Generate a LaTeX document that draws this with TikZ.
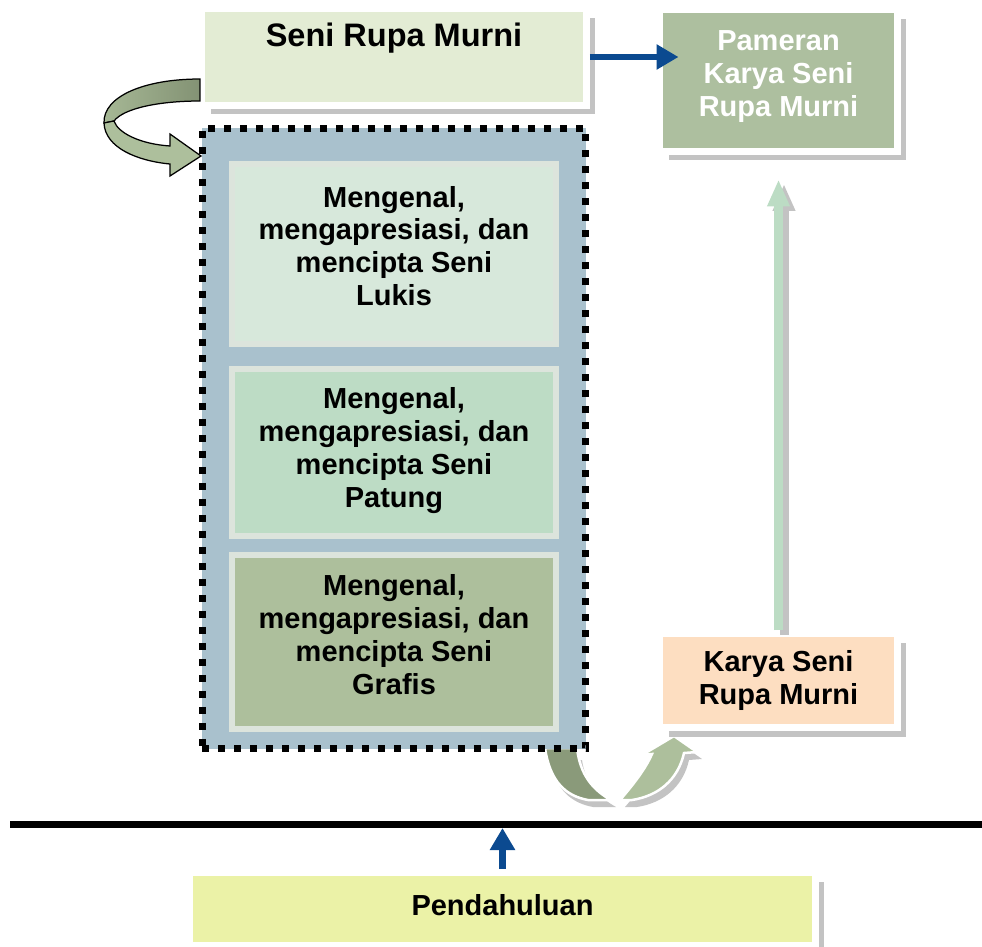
\documentclass[tikz,border=0pt]{standalone}
\usepackage{fontspec}
\setmainfont{Liberation Sans}
\usetikzlibrary{arrows.meta,shadows,calc}

\definecolor{srmisi}{HTML}{E3ECD4}
\definecolor{pameranisi}{HTML}{ADBF9F}
\definecolor{wadahisi}{HTML}{A9C1CD}
\definecolor{lukisisi}{HTML}{D7E8DB}
\definecolor{patungisi}{HTML}{BDDCC5}
\definecolor{grafisisi}{HTML}{ADBF9C}
\definecolor{tepi}{HTML}{DCE4DC}
\definecolor{karyaisi}{HTML}{FDDEC1}
\definecolor{pendahuluanisi}{HTML}{EBF2A7}
\definecolor{biru}{HTML}{0B4A90}
\definecolor{hijaumuda}{HTML}{BCDCC4}
\definecolor{hijautua}{HTML}{8A9A7A}
\definecolor{hijausedang}{HTML}{ADBF9C}
\definecolor{bayang}{HTML}{C3C3C3}

\newcommand{\tulisan}{\fontsize{16.5}{18.7}\selectfont\bfseries}
\newcommand{\judul}{\fontsize{18.5}{21}\selectfont\bfseries}

\tikzset{
    kotak/.style={draw=white, line width=0.14cm, inner sep=0pt, align=center, font=\tulisan,
        drop shadow={shadow xshift=0.18cm, shadow yshift=-0.18cm, fill=bayang, opacity=1}},
    isian/.style={draw=tepi, line width=0.12cm, inner sep=0pt, minimum width=6.48cm},
    teks/.style={font=\tulisan, align=center, inner sep=0pt},
    panahbiru/.style={draw=biru, line width=0.14cm, -{Triangle[length=0.44cm,width=0.48cm]}},
    panahhijau/.style={draw=#1, line width=0.18cm, -{Triangle[length=0.54cm,width=0.42cm]}},
}

\begin{document}
\begin{tikzpicture}[x=0.02cm,y=-0.02cm]
    \useasboundingbox (0,0) rectangle (982,946);
    %\draw[very thin,color=gray] (0,0) grid[step=50] (982,946);

    % lengkung bawah
    \begin{scope}[shift={(5,7)}]
        \fill[bayang] (545,753) .. controls (550,782) and (566,796) .. (588,800) -- (611,800) .. controls (593,790) and (580,775) .. (577,753) -- cycle;
        \fill[bayang] (620,800) .. controls (632,786) and (645,770) .. (652,754) -- (642,755) -- (674,736) -- (697,752) -- (684,753) .. controls (678,780) and (658,796) .. (632,800) -- cycle;
    \end{scope}
    \filldraw[draw=white, line width=0.05cm, fill=hijautua] (545,748) .. controls (550,782) and (566,796) .. (588,800) -- (611,800) .. controls (593,790) and (580,775) .. (577,748) -- cycle;
    \filldraw[draw=white, line width=0.05cm, fill=hijausedang] (620,800) .. controls (632,786) and (645,770) .. (652,754) -- (642,755) -- (674,736) -- (697,752) -- (684,753) .. controls (678,780) and (658,796) .. (632,800) -- cycle;

    \node[kotak, fill=srmisi, minimum width=7.7cm, minimum height=1.94cm,
        label={[font=\judul, inner sep=0pt, anchor=north, yshift=-0.35cm]north:Seni Rupa Murni}] (srm) at (394,57) {};
    \node[kotak, fill=pameranisi, minimum width=4.76cm, minimum height=2.84cm,
        label={[teks, text=white, yshift=0.08cm]center:Pameran\\Karya Seni\\Rupa Murni}] (pameran) at (778.5,80.5) {};
    \node[kotak, fill=karyaisi, minimum width=4.76cm, minimum height=1.88cm] (karya) at (778.5,680.5) {Karya Seni\\Rupa Murni};
    \node[kotak, fill=pendahuluanisi, minimum width=12.52cm, minimum height=1.46cm,
        label={[teks, yshift=0.08cm]center:Pendahuluan}] (pendahuluan) at (502.5,909) {};

    \node[draw=black, fill=wadahisi, line width=0.14cm, dash pattern=on 0.14cm off 0.18cm,
        minimum width=7.68cm, minimum height=12.42cm, inner sep=0pt] (wadah) at (394,438.5) {};
    \node[isian, fill=lukisisi, minimum height=3.6cm,
        label={[teks, yshift=0.16cm]center:Mengenal,\\mengapresiasi, dan\\mencipta Seni\\Lukis}] (lukis) at (394,254) {};
    \node[isian, fill=patungisi, minimum height=3.34cm,
        label={[teks, yshift=0.04cm]center:Mengenal,\\mengapresiasi, dan\\mencipta Seni\\Patung}] (patung) at (394,452.5) {};
    \node[isian, fill=grafisisi, minimum height=3.48cm,
        label={[teks, yshift=0.15cm]center:Mengenal,\\mengapresiasi, dan\\mencipta Seni\\Grafis}] (grafis) at (394,642) {};

    % lengkung atas
    \draw[line width=0.025cm, left color=hijausedang!80!hijautua, right color=hijautua!95!black] (200,79) .. controls (145,79) and (103,96) .. (104,123) -- (114,121) .. controls (124,108) and (160,101) .. (200,101) -- cycle;
    \filldraw[line width=0.025cm, fill=hijausedang] (104,123) .. controls (105,148) and (138,161) .. (170,164) -- (170,176) -- (201,156) -- (170,134) -- (170,146) .. controls (140,144) and (118,133) .. (114,121) -- cycle;

    \draw[panahbiru] (srm.east) -- ($(srm.east -| pameran.west)+(0.45cm,0)$);

    \draw[panahhijau=bayang, transform canvas={xshift=0.11cm,yshift=-0.09cm}] (karya.north) -- ($(pameran.south)+(0,-0.49cm)$);
    \draw[panahhijau=hijaumuda] (karya.north) -- ($(pameran.south)+(0,-0.49cm)$);

    \coordinate (gariskiri) at (10,824.5);
    \coordinate (gariskanan) at (982,824.5);
    \coordinate (garisbawah) at (0,828);
    \draw[line width=0.14cm] (gariskiri) -- (gariskanan);
    \draw[panahbiru] (pendahuluan.north) -- (pendahuluan.north |- garisbawah);

\end{tikzpicture}
\end{document}
